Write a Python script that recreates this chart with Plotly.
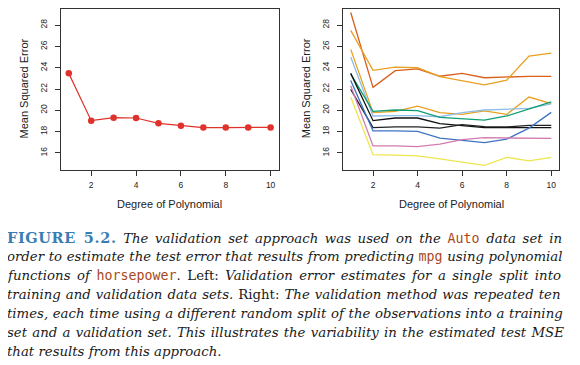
import plotly.graph_objects as go

# ---------------- data ----------------
degree = [1, 2, 3, 4, 5, 6, 7, 8, 9, 10]
single_split_mse = [23.47, 19.03, 19.31, 19.28, 18.78, 18.56, 18.38, 18.38, 18.38, 18.40]

split_names = ["split1", "split2", "split3", "split4", "split5",
               "split6", "split7", "split8", "split9", "split10"]
split_colors = ["#D8601A", "#E9A020", "#E9A020", "#8EBDE6", "#0E9E74",
                "#111111", "#222222", "#3D74C2", "#D27BAE", "#EDE650"]
split_mse = [
    [29.19, 22.16, 23.72, 23.90, 23.20, 23.47, 23.06, 23.16, 23.19, 23.19],
    [27.50, 23.75, 24.06, 24.00, 23.16, 22.78, 22.40, 22.84, 25.10, 25.37],
    [25.72, 19.78, 19.90, 20.40, 19.78, 19.62, 19.94, 19.62, 21.25, 20.62],
    [25.00, 19.47, 19.50, 19.50, 19.40, 19.78, 20.03, 20.12, 20.19, 20.60],
    [23.42, 19.90, 20.03, 19.97, 19.34, 19.20, 19.09, 19.47, 20.10, 20.80],
    [23.47, 19.03, 19.28, 19.28, 18.75, 18.55, 18.38, 18.38, 18.38, 18.38],
    [21.97, 18.38, 18.44, 18.44, 18.34, 18.66, 18.47, 18.44, 18.58, 18.58],
    [22.80, 18.08, 18.08, 18.02, 17.40, 17.22, 16.97, 17.30, 18.33, 19.81],
    [22.30, 16.66, 16.66, 16.60, 16.82, 17.25, 17.43, 17.43, 17.36, 17.36],
    [21.25, 15.84, 15.80, 15.72, 15.44, 15.16, 14.84, 15.59, 15.25, 15.59],
]

x_ticks = [2, 4, 6, 8, 10]
y_ticks = [16, 18, 20, 22, 24, 26, 28]
x_title = "Degree of Polynomial"
y_title = "Mean Squared Error"

CODE = "<span style='font-family:DejaVu Sans Mono;color:#A8491C;font-style:normal'>{}</span>"
caption_lines = [
    "<span style='font-family:DejaVu Serif;font-weight:bold;color:#3A7DB3;font-size:14.5px;letter-spacing:0.6px'>FIGURE 5.2.</span>"
    " <i>The validation set approach was used on the</i> " + CODE.format("Auto") + " <i>data set in</i>",
    "<i>order to estimate the test error that results from predicting</i> " + CODE.format("mpg")
    + " <i>using polynomial</i>",
    "<i>functions of</i> " + CODE.format("horsepower") + ". Left: "
    "<i>Validation error estimates for a single split into</i>",
    "<i>training and validation data sets.</i> Right: <i>The validation method was repeated ten</i>",
    "<i>times, each time using a different random split of the observations into a training</i>",
    "<i>set and a validation set. This illustrates the variability in the estimated test MSE</i>",
    "<i>that results from this approach.</i>",
]
word_spacing = [2.4, 0.4, 2.3, 0.8, 0.4, 1.0, 0.0]

# ---------------- figure ----------------
# the page body has an 8px default margin, so the figure is drawn 8px smaller
PAGE_OFF = 8
W, H = 580 - PAGE_OFF, 365 - PAGE_OFF
fig = go.Figure()

fig.add_trace(go.Scatter(x=degree, y=single_split_mse, mode="lines+markers",
                         line=dict(color="#E0322C", width=1.2),
                         marker=dict(color="#E0322C", size=6.5),
                         xaxis="x", yaxis="y", showlegend=False))

for name, col, vals in zip(split_names, split_colors, split_mse):
    fig.add_trace(go.Scatter(x=degree, y=vals, mode="lines", name=name,
                             line=dict(color=col, width=1.3),
                             xaxis="x2", yaxis="y2", showlegend=False))

def px_x(v):
    return (v - PAGE_OFF) / W

def px_y(v):
    return 1 - (v - PAGE_OFF) / H

axis_common = dict(showline=True, mirror=True, linecolor="#333333", linewidth=1,
                   ticks="outside", ticklen=5, tickcolor="#333333",
                   showgrid=False, zeroline=False,
                   tickfont=dict(family="Liberation Sans", size=8.5, color="#222222"))

yb, yt = px_y(170), px_y(8.6)
fig.update_layout(
    width=W, height=H, margin=dict(l=0, r=0, t=0, b=0),
    paper_bgcolor="white", plot_bgcolor="white",
    xaxis=dict(domain=[px_x(60.7), px_x(278.7)], range=[0.64, 10.36],
               tickvals=x_ticks, anchor="y", ticklabelstandoff=2, **axis_common),
    yaxis=dict(domain=[yb, yt], range=[14.4, 29.55], tickvals=y_ticks,
               tickangle=-90, anchor="x", ticklabelstandoff=4, **axis_common),
    xaxis2=dict(domain=[px_x(342.7), px_x(559.3)], range=[0.64, 10.36],
                tickvals=x_ticks, anchor="y2", ticklabelstandoff=2, **axis_common),
    yaxis2=dict(domain=[yb, yt], range=[14.4, 29.55], tickvals=y_ticks,
                tickangle=-90, anchor="x2", ticklabelstandoff=4, **axis_common),
)

ann = []
title_font = dict(family="Liberation Sans", size=11, color="#222222")
for cx in [(60.7 + 278.7) / 2, (342.7 + 559.3) / 2]:
    ann.append(dict(text=x_title, x=px_x(cx), y=px_y(204), xref="paper", yref="paper",
                    showarrow=False, xanchor="center", yanchor="middle", font=title_font))
for cx in [24, 306.7]:
    ann.append(dict(text=y_title, x=px_x(cx), y=px_y(88.5), xref="paper", yref="paper",
                    showarrow=False, xanchor="center", yanchor="middle", textangle=-90,
                    font=title_font))

line_y = [237, 256, 275, 294, 313, 332, 351]
for txt, ly, ws in zip(caption_lines, line_y, word_spacing):
    styled = "<span style='word-spacing:{}px'>{}</span>".format(ws, txt)
    ann.append(dict(text=styled, x=px_x(5), y=px_y(ly), xref="paper", yref="paper",
                    showarrow=False, xanchor="left", yanchor="middle", align="left",
                    font=dict(family="DejaVu Serif", size=13.3, color="#1a1a1a")))
fig.update_layout(annotations=ann)

fig.write_html("out.html")
